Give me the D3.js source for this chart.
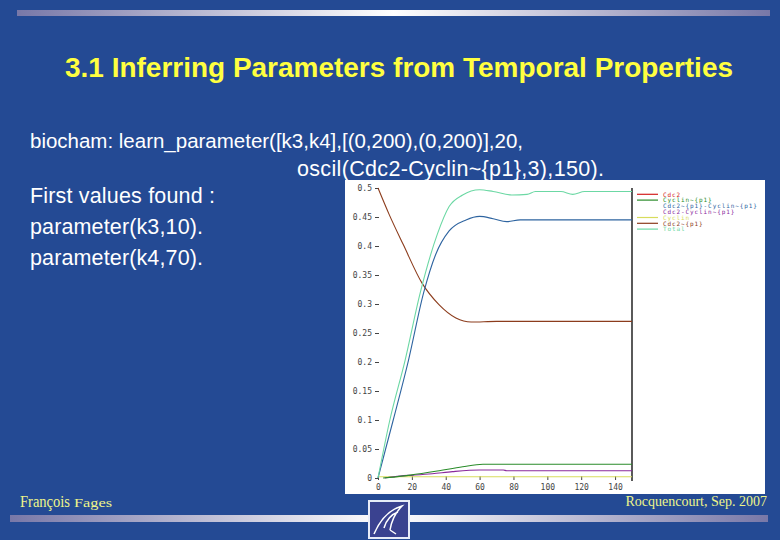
<!DOCTYPE html>
<html><head><meta charset="utf-8">
<script src="https://cdn.jsdelivr.net/npm/d3@7"></script>
<style>html,body{margin:0;padding:0;background:#244a94;}svg{display:block}</style>
</head><body>
<svg id="s" width="780" height="540"></svg>
<script>
// ---- data ----
const seriesNames = ["Cdc2","Cyclin~{p1}","Cdc2~{p1}-Cyclin~{p1}","Cdc2-Cyclin~{p1}","Cyclin","Cdc2~{p1}","Total"];
const seriesColors = ["#d42020","#2a8c2a","#2e64a0","#8a2a9c","#d8dc5c","#8c3c1c","#6cd8a4"];
const legendHasLine = [true,true,false,false,true,true,true];

const tCdc2p1 = [0,6.5,15,26,36,46,55,70,90,110,130,150];
const vCdc2p1 = [0.5,0.455,0.402,0.336,0.299,0.276,0.269,0.270,0.270,0.270,0.270,0.270];

const tTotal = [0,7,16,25,35,42,50,60,68,79,88,93,108,115,122,150];
const vTotal = [0,0.1,0.203,0.32,0.42,0.468,0.488,0.497,0.494,0.488,0.489,0.494,0.494,0.489,0.494,0.494];

const tComplexP = [0,9,18,27,34,42,52,60,68,76,84,150];
const vComplexP = [0,0.1,0.203,0.32,0.385,0.426,0.445,0.451,0.447,0.442,0.445,0.445];

const tCyclinP = [3,7,19,35,50,62,150];
const vCyclinP = [0,0.001,0.005,0.012,0.0195,0.0236,0.0236];

const tComplex = [4,13,21,32,44,60,74,76,150];
const vComplex = [0,0.0035,0.005,0.0074,0.011,0.0138,0.0138,0.0125,0.0125];

const tCyclin = [0,150];
const vCyclin = [0.0022,0.0022];

const xTicks = [0,20,40,60,80,100,120,140];
const yTicks = [0,0.05,0.1,0.15,0.2,0.25,0.3,0.35,0.4,0.45,0.5];
const yTickLabels = ["0","0.05","0.1","0.15","0.2","0.25","0.3","0.35","0.4","0.45","0.5"];

const titleText = "3.1 Inferring Parameters from Temporal Properties";
const bodyLines = ["biocham: learn_parameter([k3,k4],[(0,200),(0,200)],20,",
                   "oscil(Cdc2-Cyclin~{p1},3),150).",
                   "First values found :",
                   "parameter(k3,10).",
                   "parameter(k4,70)."];

// ---- drawing ----
const svg = d3.select("#s");
const defs = svg.append("defs");
const g1 = defs.append("linearGradient").attr("id","bar");
g1.append("stop").attr("offset","0%").attr("stop-color","#7878a8");
g1.append("stop").attr("offset","50%").attr("stop-color","#ffffff");
g1.append("stop").attr("offset","100%").attr("stop-color","#7878a8");

svg.append("rect").attr("width",780).attr("height",540).attr("fill","#244a94");
svg.append("rect").attr("x",17).attr("y",10).attr("width",753).attr("height",6).attr("fill","url(#bar)");
svg.append("rect").attr("x",10).attr("y",515).attr("width",758).attr("height",7).attr("fill","url(#bar)");

svg.append("text").attr("x",399).attr("y",77).attr("text-anchor","middle")
  .attr("font-family","Liberation Sans, Arial, sans-serif").attr("font-weight","bold")
  .attr("font-size",27).attr("textLength",668).attr("lengthAdjust","spacingAndGlyphs")
  .attr("fill","#ffff40").text(titleText);

const bodyPos = [[30,148],[297,176],[30,203],[30,234],[30,265]];
const bodySizes = [20.5,21.5,21.5,21.5,21.5];
const bodyWidths = [493,307,185,173,173];
bodyLines.forEach((t,i)=>{
  svg.append("text").attr("x",bodyPos[i][0]).attr("y",bodyPos[i][1])
    .attr("font-family","Liberation Sans, Arial, sans-serif").attr("font-size",bodySizes[i])
    .attr("textLength",bodyWidths[i]).attr("lengthAdjust","spacing")
    .attr("fill","#ffffff").text(t);
});

// chart box
svg.append("rect").attr("x",345).attr("y",180).attr("width",420).attr("height",314).attr("fill","#ffffff");

const x = d3.scaleLinear().domain([0,150]).range([378,632]);
const y = d3.scaleLinear().domain([0,0.5]).range([478,188]);

const yAx = svg.append("g").attr("transform","translate(379,0)")
  .call(d3.axisLeft(y).tickValues(yTicks).tickSize(4).tickPadding(3)
        .tickFormat((d,i)=>yTickLabels[i]));
yAx.select(".domain").remove();
yAx.selectAll("text").attr("font-family","DejaVu Sans Mono, monospace").attr("font-size",8).attr("fill","#444");
yAx.selectAll("line").attr("stroke","#444");

const xAx = svg.append("g").attr("transform","translate(0,476)")
  .call(d3.axisBottom(x).tickValues(xTicks).tickSize(4).tickPadding(4));
xAx.select(".domain").remove();
xAx.selectAll("text").attr("font-family","DejaVu Sans Mono, monospace").attr("font-size",8).attr("fill","#444");
xAx.selectAll("line").attr("stroke","#444");

svg.append("line").attr("x1",x(150)).attr("x2",x(150)).attr("y1",y(0.5)).attr("y2",y(0)+3)
  .attr("stroke","#000").attr("stroke-width",1.3);

const line = d3.line().x(d=>x(d[0])).y(d=>y(d[1])).curve(d3.curveMonotoneX);
const series = [
  [tCyclin,vCyclin,4],
  [tComplex,vComplex,3],
  [tCyclinP,vCyclinP,1],
  [tCdc2p1,vCdc2p1,5],
  [tComplexP,vComplexP,2],
  [tTotal,vTotal,6]
];
series.forEach(([ts,vs,ci])=>{
  svg.append("path").datum(ts.map((t,i)=>[t,vs[i]]))
    .attr("d",line).attr("fill","none").attr("stroke",seriesColors[ci]).attr("stroke-width",1.1);
});

// legend
const lg = svg.append("g");
seriesNames.forEach((n,i)=>{
  const yy = 194.3 + i*5.8;
  if (legendHasLine[i]) lg.append("line").attr("x1",637).attr("x2",658).attr("y1",yy).attr("y2",yy)
      .attr("stroke",seriesColors[i]).attr("stroke-width",1.2);
  lg.append("text").attr("x",663).attr("y",yy+2.2).attr("font-family","DejaVu Sans Mono, monospace")
    .attr("font-size",6).attr("letter-spacing",0.9).attr("fill",seriesColors[i]).text(n);
});

// footer
const ft = svg.append("text").attr("x",20).attr("y",507).attr("font-family","Liberation Serif, Times New Roman, serif").attr("fill","#eef58a");
ft.append("tspan").attr("font-size",16).attr("textLength",50).attr("lengthAdjust","spacingAndGlyphs").text("François");
ft.append("tspan").attr("x",74).attr("font-size",13).attr("textLength",38).attr("lengthAdjust","spacingAndGlyphs").text("Fages");
svg.append("text").attr("x",767).attr("y",506).attr("text-anchor","end")
  .attr("font-family","Liberation Serif, Times New Roman, serif").attr("font-size",14)
  .attr("fill","#eef58a").text("Rocquencourt, Sep. 2007");

// logo
const lgo = svg.append("g");
lgo.append("rect").attr("x",369).attr("y",501).attr("width",40).attr("height",37).attr("fill","#3a4290").attr("stroke","#e8ecf8").attr("stroke-width",2);
lgo.append("path").attr("d","M374,534 C380,520 388,510 402,506 C396,512 392,518 390,530 M384,528 C386,520 392,514 398,512 M390,530 L396,534")
  .attr("fill","none").attr("stroke","#ffffff").attr("stroke-width",1.5);
</script>
</body></html>
